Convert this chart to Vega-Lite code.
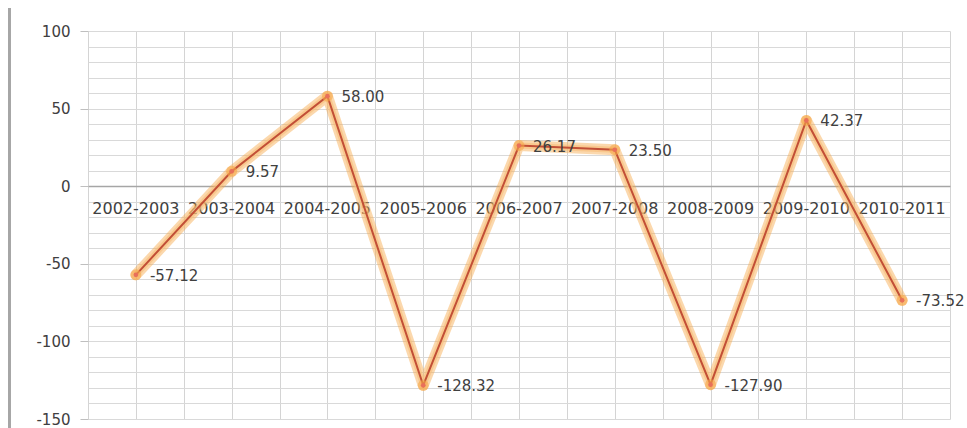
{
  "$schema": "https://vega.github.io/schema/vega-lite/v6.json",
  "width": 862,
  "height": 388,
  "autosize": {"type": "none"},
  "padding": {"left": 88, "top": 31, "right": 17, "bottom": 9},
  "background": "white",
  "config": {
    "view": {"stroke": null},
    "font": "DejaVu Sans",
    "axis": {"labelFont": "DejaVu Sans"},
    "locale": {"number": {"decimal": ".", "thousands": ",", "grouping": [3], "currency": ["$", ""], "minus": "-"}}
  },
  "data": {
    "values": [
      {"i": 0, "year": "2002-2003", "value": -57.12},
      {"i": 1, "year": "2003-2004", "value": 9.57},
      {"i": 2, "year": "2004-2005", "value": 58.00},
      {"i": 3, "year": "2005-2006", "value": -128.32},
      {"i": 4, "year": "2006-2007", "value": 26.17},
      {"i": 5, "year": "2007-2008", "value": 23.50},
      {"i": 6, "year": "2008-2009", "value": -127.90},
      {"i": 7, "year": "2009-2010", "value": 42.37},
      {"i": 8, "year": "2010-2011", "value": -73.52}
    ]
  },
  "encoding": {
    "x": {
      "field": "i",
      "type": "quantitative",
      "scale": {"domain": [-0.5, 8.5], "nice": false, "zero": false},
      "axis": {
        "title": null,
        "values": [-0.5, 0, 0.5, 1, 1.5, 2, 2.5, 3, 3.5, 4, 4.5, 5, 5.5, 6, 6.5, 7, 7.5, 8, 8.5],
        "labels": false,
        "ticks": false,
        "domain": false,
        "grid": true,
        "gridColor": "#d4d4d4",
        "gridWidth": 1
      }
    },
    "y": {
      "field": "value",
      "type": "quantitative",
      "scale": {"domain": [-150, 100], "nice": false},
      "axis": {
        "title": null,
        "values": [-150, -140, -130, -120, -110, -100, -90, -80, -70, -60, -50, -40, -30, -20, -10, 0, 10, 20, 30, 40, 50, 60, 70, 80, 90, 100],
        "labelExpr": "datum.value % 50 === 0 ? datum.label : ''",
        "labelFontSize": 15,
        "labelColor": "#404040",
        "labelPadding": 10,
        "tickSize": 8,
        "tickColor": {"condition": {"test": "datum.value % 50 === 0", "value": "#bfbfbf"}, "value": "transparent"},
        "domain": false,
        "grid": true,
        "gridColor": {"condition": {"test": "datum.value === 0", "value": "#a6a6a6"}, "value": "#d9d9d9"},
        "gridWidth": {"condition": {"test": "datum.value === 0", "value": 1.5}, "value": 1}
      }
    }
  },
  "layer": [
    {
      "mark": {"type": "rule", "color": "#a6a6a6", "strokeWidth": 2, "clip": false},
      "encoding": {
        "x": {"datum": -1.32},
        "y": {"datum": 114.8},
        "y2": {"datum": -156}
      }
    },
    {
      "mark": {"type": "text", "baseline": "middle", "align": "center", "dy": 23, "fontSize": 16, "color": "#404040"},
      "encoding": {
        "y": {"datum": 0},
        "text": {"field": "year", "type": "nominal"}
      }
    },
    {
      "mark": {"type": "line", "stroke": "#f7a84a", "strokeWidth": 11, "opacity": 0.45, "strokeJoin": "round", "strokeCap": "round"}
    },
    {
      "mark": {"type": "line", "stroke": "#f9be7a", "strokeWidth": 6, "opacity": 0.6, "strokeJoin": "round"}
    },
    {
      "mark": {"type": "line", "stroke": "#c24f36", "strokeWidth": 2, "strokeJoin": "miter"}
    },
    {
      "mark": {"type": "point", "shape": "circle", "filled": true, "size": 120, "color": "#f7a84a", "opacity": 0.6}
    },
    {
      "mark": {"type": "point", "shape": "circle", "filled": true, "size": 22, "color": "#e8705a", "opacity": 1}
    },
    {
      "mark": {"type": "text", "align": "left", "baseline": "middle", "dx": 14, "dy": 1, "fontSize": 15, "color": "#404040"},
      "encoding": {
        "text": {"field": "value", "type": "quantitative", "format": ".2f"}
      }
    }
  ]
}
